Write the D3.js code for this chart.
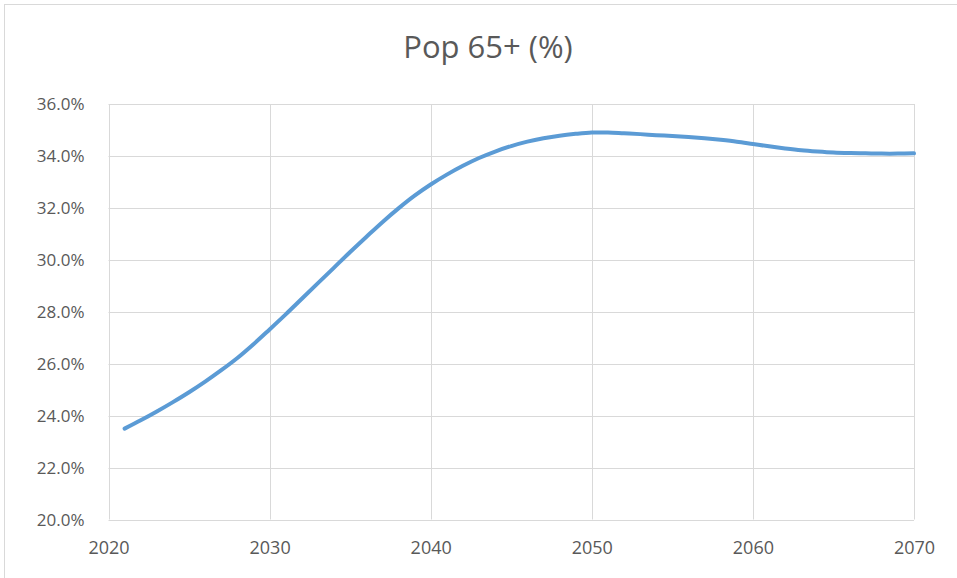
<!DOCTYPE html>
<html>
<head>
<meta charset="utf-8">
<script src="https://cdn.jsdelivr.net/npm/d3@7/dist/d3.min.js"></script>
<style>
  html, body { margin: 0; padding: 0; background: #fff; }
  svg { display: block; }
  text { font-family: "Open Sans", sans-serif; fill: #595959; }
</style>
</head>
<body>
<svg id="chart" width="957" height="578"></svg>
<script>
const title = "Pop 65+ (%)";
const years = [2021,2022,2023,2024,2025,2026,2027,2028,2029,2030,
               2031,2032,2033,2034,2035,2036,2037,2038,2039,2040,
               2041,2042,2043,2044,2045,2046,2047,2048,2049,2050,
               2051,2052,2053,2054,2055,2056,2057,2058,2059,2060,
               2061,2062,2063,2064,2065,2066,2067,2068,2069,2070];
const pop65 = [23.5,23.82,24.16,24.52,24.9,25.31,25.75,26.22,26.75,27.32,
               27.9,28.5,29.1,29.7,30.3,30.88,31.45,31.98,32.47,32.9,
               33.28,33.62,33.92,34.17,34.38,34.55,34.68,34.78,34.85,34.9,
               34.9,34.87,34.84,34.8,34.77,34.73,34.68,34.62,34.55,34.46,
               34.37,34.29,34.22,34.17,34.13,34.11,34.1,34.09,34.09,34.1];
const xTicks = [2020,2030,2040,2050,2060,2070];
const yTicks = [20,22,24,26,28,30,32,34,36];

const svg = d3.select("#chart");
const W = 957, H = 578;
const m = {left: 108.5, right: 957 - 914, top: 104, bottom: 578 - 519.5};

// outer frame
svg.append("rect")
  .attr("x", 4.5).attr("y", 4.5)
  .attr("width", 965).attr("height", 590)
  .attr("fill", "#fff").attr("stroke", "#d9d9d9").attr("stroke-width", 1);

const x = d3.scaleLinear().domain([2020, 2070]).range([m.left, W - m.right]);
const y = d3.scaleLinear().domain([20, 36]).range([H - m.bottom, m.top]);

// horizontal gridlines
svg.append("g")
  .selectAll("line").data(yTicks).join("line")
  .attr("x1", x(2020)).attr("x2", x(2070))
  .attr("y1", d => Math.round(y(d)) + 0.5).attr("y2", d => Math.round(y(d)) + 0.5)
  .attr("stroke", "#d9d9d9").attr("stroke-width", 1);

// vertical gridlines
svg.append("g")
  .selectAll("line").data(xTicks).join("line")
  .attr("x1", d => Math.round(x(d)) + 0.5).attr("x2", d => Math.round(x(d)) + 0.5)
  .attr("y1", y(36)).attr("y2", y(20))
  .attr("stroke", "#d9d9d9").attr("stroke-width", 1);

// y axis labels
const yAxis = d3.axisLeft(y).tickValues(yTicks).tickSize(0).tickPadding(24)
  .tickFormat(d => d3.format(".1f")(d) + "%");
const gy = svg.append("g").attr("transform", `translate(${x(2020)},0)`).call(yAxis);
gy.select(".domain").remove();
gy.selectAll("text").style("font-size", "17px").attr("fill", "#595959").attr("dy", "0.35em");

// x axis labels
const xAxis = d3.axisBottom(x).tickValues(xTicks).tickSize(0).tickPadding(22)
  .tickFormat(d3.format("d"));
const gx = svg.append("g").attr("transform", `translate(0,${y(20)})`).call(xAxis);
gx.select(".domain").remove();
gx.selectAll("text").style("font-size", "18px").attr("fill", "#595959");

// line
const line = d3.line()
  .x((d, i) => x(years[i]))
  .y(d => y(d))
  .curve(d3.curveCatmullRom.alpha(0.5));
svg.append("path")
  .datum(pop65)
  .attr("d", line)
  .attr("fill", "none")
  .attr("stroke", "#5B9BD5")
  .attr("stroke-width", 4)
  .attr("stroke-linecap", "round");

// title
svg.append("text")
  .attr("x", 488).attr("y", 58)
  .attr("text-anchor", "middle")
  .style("font-size", "31px")
  .attr("fill", "#595959")
  .text(title);
</script>
</body>
</html>
